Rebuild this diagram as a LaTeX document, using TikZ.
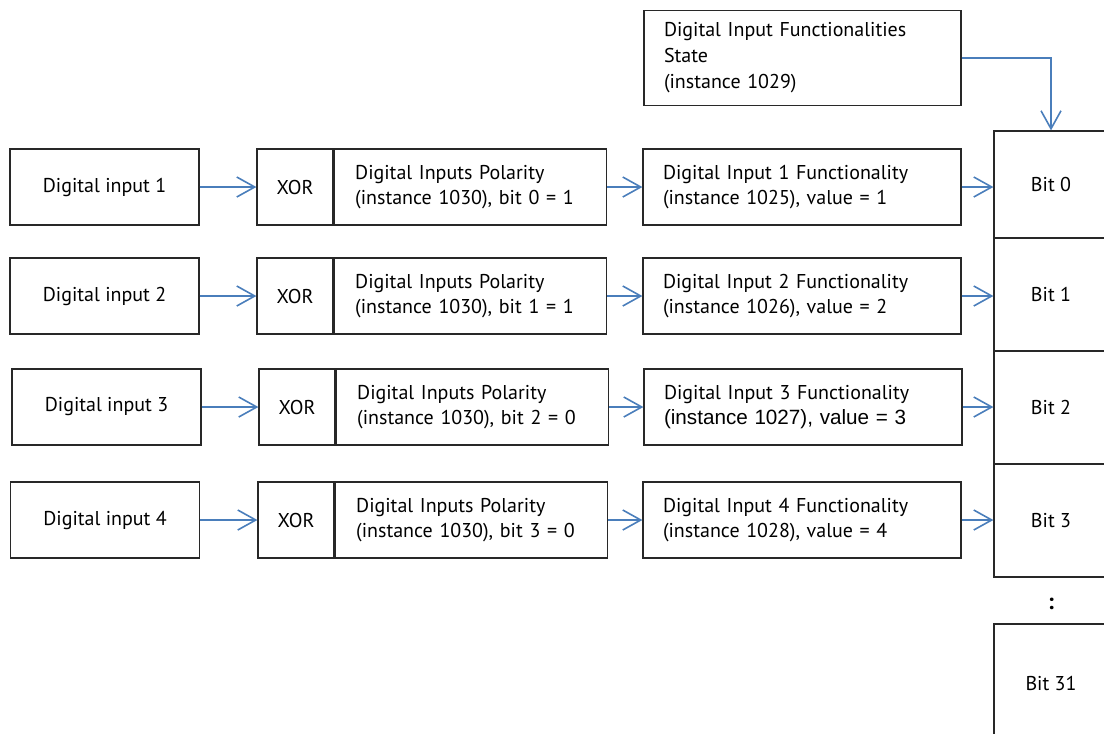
\documentclass[tikz,border=0pt]{standalone}
\usepackage{fontspec}
\setmainfont{PT Sans}
\newfontfamily\arialfont{Liberation Sans}
\usetikzlibrary{arrows.meta}
\definecolor{arrblue}{RGB}{74,126,187}
\definecolor{edge}{RGB}{40,40,40}
\tikzset{
  blk/.style={draw=edge, line width=0.9pt, inner sep=0pt, font=\fontsize{15}{18.75}\selectfont},
  inbox/.style={blk, minimum width=141.75pt, minimum height=57pt, align=center},
  xorbox/.style={blk, minimum width=57pt, minimum height=57pt, align=center},
  polbox/.style={blk, minimum width=204pt, minimum height=57pt, text width=172.5pt, inner xsep=15.75pt, align=left},
  funbox/.style={blk, minimum width=238.5pt, minimum height=57pt, text width=208.5pt, inner xsep=15pt, align=left},
  bitbox/.style={blk, minimum width=85.5pt, align=center},
  conn/.style={draw=arrblue, line width=1.2pt, -{Straight Barb[length=13.5pt,width=15pt,line width=1.2pt]}}
}
\begin{document}
\begin{tikzpicture}[x=0.75pt,y=-0.75pt]
\useasboundingbox (0,0) rectangle (1104,733);
\begin{scope}
\clip (0,0) rectangle (1104,733);
% state box
\node[blk, minimum width=237.75pt, minimum height=71.25pt, text width=207.75pt, inner xsep=15pt, align=left, font=\fontsize{15}{19.5}\selectfont] (st) at (802.5,58) {Digital Input Functionalities\\State\\(instance 1029)};
% rows
\node[inbox] (in1) at (104.5,187) {Digital input 1};
\node[inbox] (in2) at (104.5,296) {Digital input 2};
\node[inbox] (in3) at (106.5,407) {Digital input 3};
\node[inbox] (in4) at (105,520) {Digital input 4};
\node[xorbox] (x1) at (295,187) {XOR};
\node[xorbox] (x2) at (295,296) {XOR};
\node[xorbox] (x3) at (297,407) {XOR};
\node[xorbox] (x4) at (296,520) {XOR};
\node[polbox, anchor=west] (p1) at (x1.east) {Digital Inputs Polarity\\(instance 1030), bit 0 = 1};
\node[polbox, anchor=west] (p2) at (x2.east) {Digital Inputs Polarity\\(instance 1030), bit 1 = 1};
\node[polbox, anchor=west] (p3) at (x3.east) {Digital Inputs Polarity\\(instance 1030), bit 2 = 0};
\node[polbox, anchor=west] (p4) at (x4.east) {Digital Inputs Polarity\\(instance 1030), bit 3 = 0};
\node[funbox] (f1) at (802,187) {Digital Input 1 Functionality\\(instance 1025), value = 1};
\node[funbox] (f2) at (802,296) {Digital Input 2 Functionality\\(instance 1026), value = 2};
\node[funbox] (f3) at (803,407) {Digital Input 3 Functionality\\{\arialfont\fontsize{15.5}{18.75}\selectfont (instance 1027), value = 3}};
\node[funbox] (f4) at (802,520) {Digital Input 4 Functionality\\(instance 1028), value = 4};
% bits
\node[bitbox, minimum height=80.25pt] (b0) at (1051,184.5) {Bit 0};
\node[bitbox, minimum height=84.75pt] (b1) at (1051,294.5) {Bit 1};
\node[bitbox, minimum height=84.75pt] (b2) at (1051,407.5) {Bit 2};
\node[bitbox, minimum height=84.75pt] (b3) at (1051,520.5) {Bit 3};
\node[font=\fontsize{17}{19}\bfseries] (dots) at (1051,604) {:};
\node[bitbox, minimum height=88.5pt] (b31) at (1051,683) {Bit 31};
\end{scope}
% connectors
\foreach \i in {1,2,3,4}{
  \draw[conn] (in\i) -- (x\i);
  \draw[conn] (p\i) -- (f\i);
}
\draw[conn] (f1.east) -- (f1.east -| b0.west);
\draw[conn] (f2.east) -- (f2.east -| b1.west);
\draw[conn] (f3.east) -- (f3.east -| b2.west);
\draw[conn] (f4.east) -- (f4.east -| b3.west);
\draw[conn] (st.east) -| (b0.north);
\end{tikzpicture}
\end{document}
